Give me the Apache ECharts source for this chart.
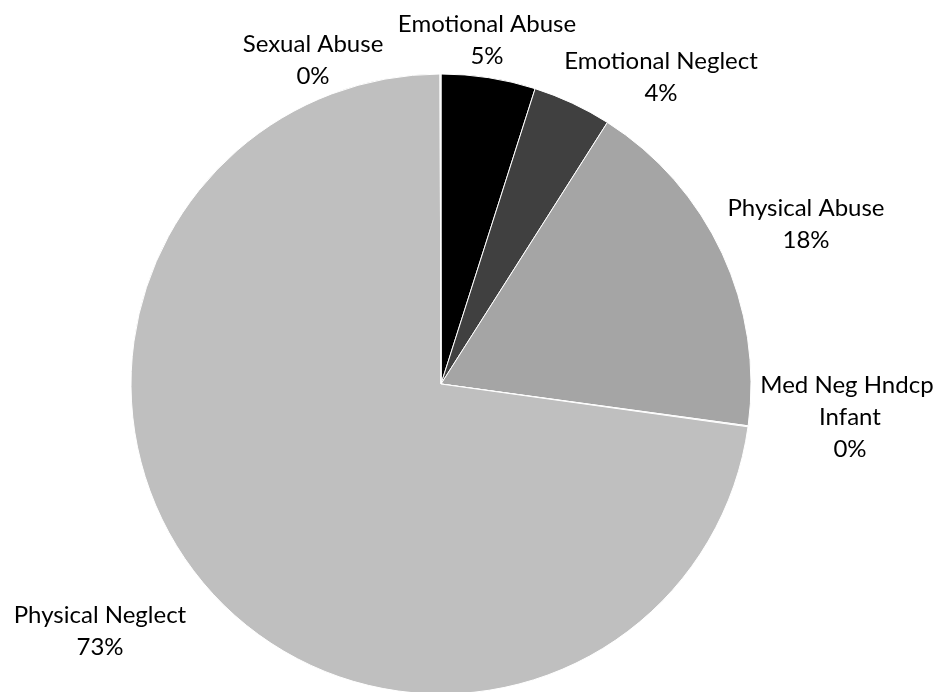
<!DOCTYPE html>
<html>
<head>
<meta charset="utf-8">
<script src="https://cdn.jsdelivr.net/npm/echarts@6/dist/echarts.min.js"></script>
<style>
  html, body { margin: 0; padding: 0; background: #ffffff; }
  #chart { width: 941px; height: 692px; }
</style>
</head>
<body>
<div id="chart"></div>
<script>
// Share of cases by maltreatment type (percent), clockwise from 12 o'clock
const categories = [
  'Emotional Abuse',
  'Emotional Neglect',
  'Physical Abuse',
  'Med Neg Hndcp Infant',
  'Physical Neglect',
  'Sexual Abuse'
];
const shares = [4.9, 4.1, 18.1, 0.05, 72.6, 0.05];

// Slice fills, one per category
const sliceColors = ['#000000', '#404040', '#a5a5a5', '#d9d9d9', '#bfbfbf', '#e6e6e6'];

// Pie geometry
const CX = 441, CY = 384, R = 310;

// Where each label block is centred, as an offset from the pie centre
const labelOffsets = [
  [46, -344],
  [220, -307],
  [365, -160],
  [409, 33],
  [-341, 247],
  [-128, -324]
];

const chart = echarts.init(document.getElementById('chart'), null, { renderer: 'canvas' });

const data = categories.map((name, i) => {
  const item = { name: name, value: shares[i], itemStyle: { color: sliceColors[i] } };
  if (name === 'Med Neg Hndcp Infant') {
    item.label = { width: 190, overflow: 'break' };
  }
  return item;
});

chart.setOption({
  animation: false,
  backgroundColor: '#ffffff',
  series: [{
    type: 'pie',
    center: [CX, CY],
    radius: [0, R],
    startAngle: 90,
    clockwise: true,
    percentPrecision: 0,
    avoidLabelOverlap: false,
    itemStyle: { borderColor: '#ffffff', borderWidth: 1 },
    label: {
      show: true,
      position: 'outside',
      formatter: '{b}\n{d}%',
      fontFamily: 'Lato',
      fontSize: 24,
      lineHeight: 32,
      color: '#000000'
    },
    labelLine: { show: false },
    labelLayout: function (params) {
      const off = labelOffsets[params.dataIndex];
      return {
        x: CX + off[0],
        y: CY + off[1],
        align: 'center',
        verticalAlign: 'middle'
      };
    },
    emphasis: { disabled: true },
    data: data
  }]
});
</script>
</body>
</html>
